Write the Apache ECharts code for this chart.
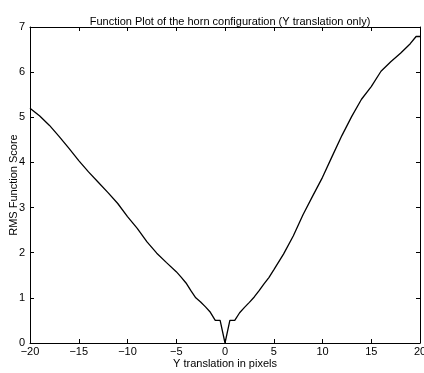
<!DOCTYPE html>
<html>
<head>
<meta charset="utf-8">
<script src="https://cdn.jsdelivr.net/npm/echarts@6/dist/echarts.min.js"></script>
<style>
  html, body { margin: 0; padding: 0; background: #fff; }
  #chart { width: 424px; height: 373px; }
</style>
</head>
<body>
<div id="chart"></div>
<script>
// Y translation (pixels) and the RMS function score at each shift
var shifts = [-20, -19, -18, -17, -16, -15, -14, -13, -12, -11, -10, -9, -8, -7, -6, -5,
  -4.5, -4, -3.5, -3, -2.5, -2, -1.5, -1, -0.5, 0, 0.5, 1, 1.5, 2, 2.5, 3, 3.5, 4, 4.5, 5,
  6, 7, 8, 9, 10, 11, 12, 13, 14, 15, 16, 17, 18, 19, 19.6, 20];
var scores = [5.20, 5.03, 4.82, 4.57, 4.31, 4.04, 3.79, 3.56, 3.33, 3.09, 2.80, 2.54, 2.24, 1.99, 1.78, 1.58,
  1.46, 1.33, 1.16, 1.00, 0.91, 0.80, 0.68, 0.50, 0.50, 0.00, 0.50, 0.50, 0.67, 0.79, 0.90, 1.02, 1.16, 1.31, 1.45, 1.62,
  1.97, 2.37, 2.84, 3.26, 3.67, 4.14, 4.60, 5.02, 5.40, 5.68, 6.02, 6.23, 6.42, 6.63, 6.79, 6.79];
var xTicks = [-20, -15, -10, -5, 0, 5, 10, 15, 20];
var yTicks = [0, 1, 2, 3, 4, 5, 6, 7];

var points = shifts.map(function (x, i) { return [x, scores[i]]; });
var font = 'Liberation Sans, Arial, Helvetica, sans-serif';
var black = '#000';

function minus(v) { return String(v).replace('-', '\u2212'); }

function boxAxis(extra) {
  var base = {
    type: 'value',
    axisLine: { show: true, onZero: false, lineStyle: { color: black, width: 1 } },
    axisTick: { show: true, inside: true, length: 4, lineStyle: { color: black } },
    axisLabel: { show: false },
    splitLine: { show: false }
  };
  return Object.assign(base, extra);
}

var chart = echarts.init(document.getElementById('chart'), null, { renderer: 'canvas' });
chart.setOption({
  animation: false,
  backgroundColor: '#fff',
  title: {
    text: 'Function Plot of the horn configuration (Y translation only)',
    left: 225,
    textAlign: 'center',
    top: 11,
    textStyle: { fontFamily: font, fontSize: 11, fontWeight: 'normal', color: black }
  },
  grid: { left: 30, right: 4, top: 27, bottom: 30, containLabel: false, outerBoundsMode: 'none' },
  xAxis: [
    boxAxis({
      position: 'bottom',
      min: xTicks[0], max: xTicks[xTicks.length - 1], interval: 5,
      name: 'Y translation in pixels',
      nameLocation: 'middle', nameGap: 15, nameMoveOverlap: false,
      nameTextStyle: { fontFamily: font, fontSize: 11, color: black },
      axisLabel: { show: true, fontFamily: font, fontSize: 11, color: black, margin: 3, formatter: minus }
    }),
    boxAxis({
      position: 'top',
      min: xTicks[0], max: xTicks[xTicks.length - 1], interval: 5
    })
  ],
  yAxis: [
    boxAxis({
      position: 'left',
      min: yTicks[0], max: yTicks[yTicks.length - 1], interval: 1,
      name: 'RMS Function Score',
      nameLocation: 'middle', nameGap: 11, nameMoveOverlap: false,
      nameTextStyle: { fontFamily: font, fontSize: 11, color: black },
      axisLabel: { show: true, fontFamily: font, fontSize: 11, color: black, margin: 5 }
    }),
    boxAxis({
      position: 'right',
      min: yTicks[0], max: yTicks[yTicks.length - 1], interval: 1
    })
  ],
  series: [{
    type: 'line',
    data: points,
    xAxisIndex: 0, yAxisIndex: 0,
    showSymbol: false,
    lineStyle: { color: black, width: 1.3 },
    clip: true
  }]
});
</script>
</body>
</html>
